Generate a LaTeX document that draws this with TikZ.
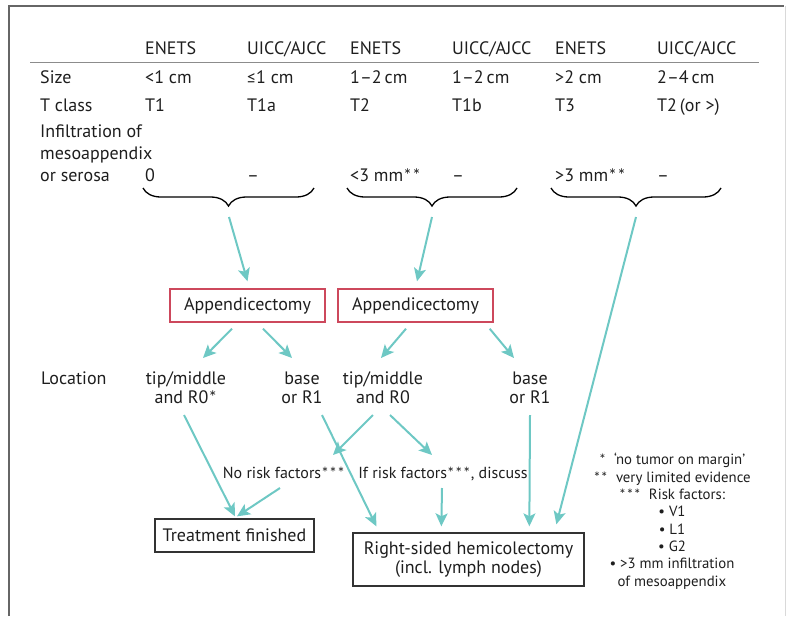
\documentclass[tikz,border=0pt]{standalone}
\usepackage{fontspec}
\setmainfont{PT Sans}
\newfontfamily\altfont{Carlito}
\newcommand\stx[1]{{\altfont #1}}
\usetikzlibrary{arrows.meta,decorations.pathreplacing,calc}
\definecolor{arrowc}{RGB}{110,200,196}
\definecolor{boxred}{RGB}{205,72,92}
\definecolor{txt}{RGB}{30,30,30}
\begin{document}
\begin{tikzpicture}[x=1pt,y=-1pt,
  tx/.style={inner sep=0pt, anchor=base west, text=txt, font=\fontsize{18}{22}\selectfont},
  ctr/.style={inner sep=0pt, anchor=base, text=txt, align=center, font=\fontsize{18}{19}\selectfont},
  risk/.style={inner sep=0pt, anchor=base, text=txt, font=\fontsize{16}{19}\selectfont},
  redbox/.style={draw=boxred, line width=1.4pt, inner sep=0pt, text=txt, font=\fontsize{18}{19}\selectfont},
  blackbox/.style={draw=black!80, line width=1.3pt, inner sep=0pt, text=txt, align=center, font=\fontsize{18}{19}\selectfont},
  arr/.style={draw=arrowc, line width=2pt, -{Stealth[length=13pt,width=12pt,inset=3pt]}},
  bracestyle/.style={draw=black, line width=1.3pt, decorate, decoration={brace, amplitude=18pt, aspect=0.5}}
]
\useasboundingbox (0,0) rectangle (790,616);
% frame
\draw[black!60, line width=1.2pt] (9,616) -- (9,6) -- (784,6);
\draw[black!15, line width=1pt] (785,6) -- (785,616);

% header
\node[tx] (h1) at (145,54) {ENETS};
\node[tx] (h2) at (247,54) {UICC/AJCC};
\node[tx] (h3) at (350,54) {ENETS};
\node[tx] (h4) at (452,54) {UICC/AJCC};
\node[tx] (h5) at (555,54) {ENETS};
\node[tx] (h6) at (657,54) {UICC/AJCC};
\draw[black!45, line width=1pt] (30,62) -- (759,62);

% size
\node[tx] (s0) at (40,83) {Size};
\node[tx] (s1) at (145,83) {<1 cm};
\node[tx] (s2) at (247,83) {\stx{≤}1 cm};
\node[tx] (s3) at (350,83) {1–2\,cm};
\node[tx] (s4) at (452,83) {1–2\,cm};
\node[tx] (s5) at (555,83) {>2 cm};
\node[tx] (s6) at (657,83) {2–4\,cm};

% T class
\node[tx] (t0) at (40,111) {T class};
\node[tx] (t1) at (145,111) {T1};
\node[tx] (t2) at (247,111) {T1a};
\node[tx] (t3) at (350,111) {T2};
\node[tx] (t4) at (452,111) {T1b};
\node[tx] (t5) at (555,111) {T3};
\node[tx] (t6) at (657,111) {T2\,(or >)};

% infiltration
\node[tx, align=left] (i0) at (40,181) {Infiltration of\\mesoappendix\\or serosa};
\node[tx] (i1) at (145,181) {0};
\node[tx] (i2) at (247,181) {–};
\node[tx] (i3) at (350,181) {<3 mm\stx{**}};
\node[tx] (i4) at (452,181) {–};
\node[tx] (i5) at (555,181) {>3 mm\stx{**}};
\node[tx] (i6) at (657,181) {–};

% braces
\draw[bracestyle] (314,188) -- (143,188);
\draw[bracestyle] (517,188) -- (347,188);
\draw[bracestyle] (721,188) -- (551,188);
\coordinate (br1) at (229,207);
\coordinate (br2) at (432,207);
\coordinate (br3) at (636,207);

% appendicectomy boxes
\node[redbox, minimum width=155pt, minimum height=33pt] (app1) at (247.5,305.5) {Appendicectomy};
\node[redbox, minimum width=155pt, minimum height=33pt] (app2) at (415.5,305.5) {Appendicectomy};

% location row
\node[tx] (loc) at (41,384) {Location};
\node[ctr] (tip1) at (186,403) {tip/middle\\and R0\stx{*}};
\node[ctr] (base1) at (302,403) {base\\or R1};
\node[ctr] (tip2) at (383,403) {tip/middle\\and R0};
\node[ctr] (base2) at (530,403) {base\\or R1};

% risk labels
\node[risk] (nr) at (284,478) {No risk factors\stx{***}};
\node[risk] (ir) at (443,478) {If risk factors\stx{***}, discuss};

% final boxes
\node[blackbox, minimum width=159pt, minimum height=33pt] (tf) at (234.5,535.5) {Treatment finished};
\node[blackbox, minimum width=231pt, minimum height=53pt] (rs) at (468.5,559.5) {Right-sided hemicolectomy\\(incl. lymph nodes)};

% footnotes
\node[inner sep=0pt, anchor=base, align=center, text=txt, font=\fontsize{14.8}{17.3}\selectfont] (fn) at (672,586)
 {\stx{*}\ \ ‘no tumor on margin’\\\stx{**}\ \ very limited evidence\\\stx{***}\ \ Risk factors:\\• V1\\• L1\\• G2\\• >3 mm infiltration\\of mesoappendix};

% arrows: braces to boxes
\draw[arr] ([yshift=-10pt]br1) -- ([yshift=7pt]app1.north);
\draw[arr] ([yshift=-10pt]br2) -- ([xshift=1.5pt,yshift=7pt]app2.north);
\draw[arr] ([yshift=-10pt]br3) -- ([xshift=204pt,yshift=8pt]rs.north west);

% appendicectomy to location
\draw[arr] ([xshift=-15.5pt,yshift=-6pt]app1.south) -- ([xshift=17pt,yshift=45pt]tip1.base);
\draw[arr] ([xshift=15.5pt,yshift=-6pt]app1.south) -- ([xshift=-10pt,yshift=45pt]base1.base);
\draw[arr] ([xshift=-9.5pt,yshift=-6pt]app2.south) -- ([xshift=-2pt,yshift=45pt]tip2.base);
\draw[arr] ([xshift=-4pt,yshift=-6pt]app2.south east) -- ([xshift=-16pt,yshift=45pt]base2.base);

% lower arrows
\draw[arr] ([xshift=-2pt,yshift=-12pt]tip1.base) -- ([xshift=0.5pt,yshift=2pt]tf.north);
\draw[arr] ([xshift=20pt,yshift=-12pt]base1.base) -- ([xshift=24pt,yshift=6pt]rs.north west);
\draw[arr] ([xshift=-10pt,yshift=-12pt]tip2.base) -- ([xshift=49pt,yshift=23pt]nr.base);
\draw[arr] ([xshift=-4pt,yshift=-10pt]nr.base) -- ([xshift=2.5pt,yshift=2pt]tf.north);
\draw[arr] ([xshift=7pt,yshift=-12pt]tip2.base) -- ([xshift=-11pt,yshift=23pt]ir.base);
\draw[arr] ([xshift=-1pt,yshift=-10pt]ir.base) -- ([xshift=89pt,yshift=6pt]rs.north west);
\draw[arr] ([yshift=-12pt]base2.base) -- ([xshift=177pt,yshift=6pt]rs.north west);
\end{tikzpicture}
\end{document}
